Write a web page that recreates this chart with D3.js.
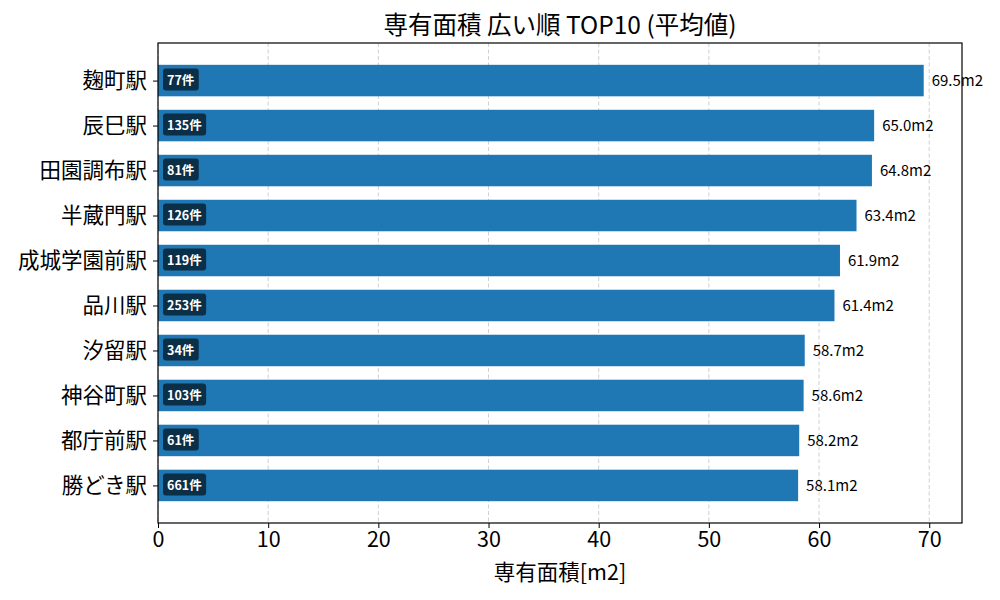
<!DOCTYPE html>
<html>
<head>
<meta charset="utf-8">
<script src="https://cdn.jsdelivr.net/npm/d3@7"></script>
<style>
  body { margin: 0; background: #fff; }
  svg text { font-family: "Noto Sans CJK JP", "Noto Sans", sans-serif; }
</style>
</head>
<body>
<svg id="chart" width="1000" height="600"></svg>
<script>
'use strict';

var stations = ["麹町駅", "辰巳駅", "田園調布駅", "半蔵門駅", "成城学園前駅",
                "品川駅", "汐留駅", "神谷町駅", "都庁前駅", "勝どき駅"];
var areas = [69.5, 65.0, 64.8, 63.4, 61.9, 61.4, 58.7, 58.6, 58.2, 58.1];
var counts = [77, 135, 81, 126, 119, 253, 34, 103, 61, 661];
var xTicks = [0, 10, 20, 30, 40, 50, 60, 70];

var svg = d3.select("#chart"),
    plotL = 158, plotR = 962, plotT = 43, plotB = 523,
    barH = 0.7;

var x = d3.scaleLinear().domain([0, 72.975]).range([plotL, plotR]);
var y = d3.scaleLinear().domain([-0.835, 9.835]).range([plotT, plotB]);

// grid
svg.append("g").selectAll("line")
    .data(xTicks)
    .join("line")
    .attr("x1", function(d) { return x(d); })
    .attr("x2", function(d) { return x(d); })
    .attr("y1", plotT).attr("y2", plotB)
    .style("stroke", "#b0b0b0")
    .style("stroke-opacity", 0.6)
    .style("stroke-dasharray", "4 2.5");

var rows = svg.append("g").selectAll("g")
    .data(stations)
    .join("g");

rows.append("rect")
    .attr("x", x(0))
    .attr("y", function(d, i) { return y(i - barH / 2); })
    .attr("width", function(d, i) { return x(areas[i]) - x(0); })
    .attr("height", y(barH) - y(0))
    .style("fill", "#1f77b4");

rows.append("text")
    .attr("x", function(d, i) { return x(areas[i]) + 8; })
    .attr("y", function(d, i) { return y(i); })
    .attr("dy", "0.35em")
    .style("font-size", "15px")
    .text(function(d, i) { return areas[i].toFixed(1) + "m2"; });

// count badges
var badges = rows.append("g");
badges.append("text")
    .attr("x", x(0) + 9)
    .attr("y", function(d, i) { return y(i); })
    .attr("dy", "0.36em")
    .style("font-size", "12.5px")
    .style("font-weight", "bold")
    .style("fill", "#fff")
    .text(function(d, i) { return counts[i] + "件"; });
badges.each(function() {
    var g = d3.select(this), bb = g.select("text").node().getBBox();
    g.insert("rect", "text")
        .attr("x", bb.x - 4).attr("y", bb.y - 1.5)
        .attr("width", bb.width + 8).attr("height", bb.height + 3)
        .attr("rx", 3)
        .style("fill", "#000")
        .style("fill-opacity", 0.6);
});

// axes frame
svg.append("rect")
    .attr("x", plotL).attr("y", plotT)
    .attr("width", plotR - plotL).attr("height", plotB - plotT)
    .style("fill", "none").style("stroke", "#000").style("stroke-width", 1.2);

var xAxis = svg.append("g")
    .attr("transform", "translate(0," + plotB + ")")
    .call(d3.axisBottom(x).tickValues(xTicks).tickSize(5).tickPadding(4).tickFormat(d3.format("d")));
xAxis.select(".domain").remove();
xAxis.selectAll("text").style("font-size", "21.5px").style("fill", "#000")
    .style("font-family", "\"Noto Sans CJK JP\", sans-serif");

var yAxis = svg.append("g")
    .attr("transform", "translate(" + plotL + ",0)")
    .call(d3.axisLeft(y).tickValues(d3.range(stations.length)).tickSize(5).tickPadding(6)
        .tickFormat(function(i) { return stations[i]; }));
yAxis.select(".domain").remove();
yAxis.selectAll("text").style("font-size", "21.5px").style("fill", "#000")
    .style("font-family", "\"Noto Sans CJK JP\", sans-serif");

svg.append("text")
    .attr("x", (plotL + plotR) / 2).attr("y", 34)
    .attr("text-anchor", "middle")
    .style("font-size", "24.5px")
    .text("専有面積 広い順 TOP10 (平均値)");

svg.append("text")
    .attr("x", (plotL + plotR) / 2).attr("y", 580)
    .attr("text-anchor", "middle")
    .style("font-size", "21.5px")
    .text("専有面積[m2]");
</script>
</body>
</html>
